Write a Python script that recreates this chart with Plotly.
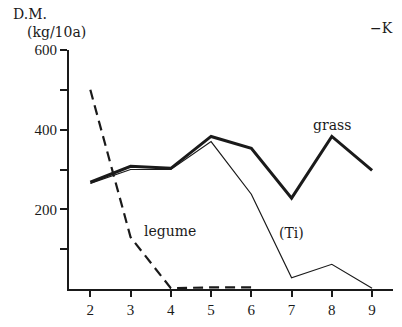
import plotly.graph_objects as go

years = [2, 3, 4, 5, 6, 7, 8, 9]
grass = [268, 308, 303, 383, 353, 228, 383, 298]
timothy = [265, 300, 300, 370, 238, 28, 62, 2]
legume_years = [2, 3, 4, 5, 6]
legume = [500, 130, 2, 4, 4]

x_ticks = [2, 3, 4, 5, 6, 7, 8, 9]
y_ticks = [100, 200, 300, 400, 500, 600]
y_text = ["", "200", "", "400", "", "600"]

NUM_FONT = "serif"
WORD_FONT = "DejaVu Serif"
INK = "#1a1a1a"

fig = go.Figure()
fig.add_trace(go.Scatter(x=years, y=grass, mode="lines",
                         line=dict(color=INK, width=3), showlegend=False))
fig.add_trace(go.Scatter(x=years, y=timothy, mode="lines",
                         line=dict(color=INK, width=1.2), showlegend=False))
fig.add_trace(go.Scatter(x=legume_years, y=legume, mode="lines",
                         line=dict(color=INK, width=2.2, dash="10px,6px"), showlegend=False))

def ann(text, x, y, xref="x", yref="y", size=14, font=WORD_FONT):
    fig.add_annotation(text=text, x=x, y=y, xref=xref, yref=yref, showarrow=False,
                       xanchor="center", yanchor="middle",
                       font=dict(family=font, size=size, color=INK))

ann("grass", 8.01, 412)
ann("legume", 3.99, 146)
ann("(Ti)", 7.01, 141)
ann("年", 9.44, -52, font="Noto Sans CJK JP", size=13)
ann("D.M.", -0.12, 1.150, xref="paper", yref="paper")
ann("(kg/10a)", -0.039, 1.074, xref="paper", yref="paper")
ann("−K", 0.966, 1.091, xref="paper", yref="paper")

fig.update_layout(
    width=402, height=327,
    margin=dict(l=69, r=9, t=50, b=34),
    paper_bgcolor="white", plot_bgcolor="white",
    font=dict(family=NUM_FONT, size=14, color=INK),
    xaxis=dict(range=[1.47, 9.52], tickvals=x_ticks, ticks="outside", ticklen=6,
               tickwidth=2, tickcolor=INK, showline=True, linewidth=2, linecolor=INK,
               showgrid=False, zeroline=False, tickfont=dict(family=NUM_FONT, size=15)),
    yaxis=dict(range=[0, 600], tickvals=y_ticks, ticktext=y_text, ticks="outside",
               ticklen=7, tickwidth=2, tickcolor=INK, showline=True, linewidth=2,
               linecolor=INK, showgrid=False, zeroline=False,
               tickfont=dict(family="Liberation Serif", size=15)),
)
fig.write_html("out.html", config={"displayModeBar": False},
               post_script="document.body.style.margin='0';document.body.style.padding='0';")
